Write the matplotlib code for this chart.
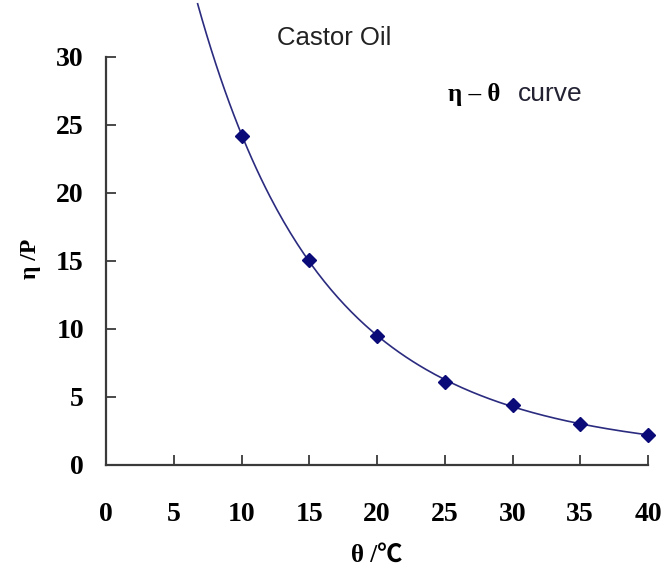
import matplotlib
matplotlib.use('Agg')
import matplotlib.pyplot as plt
import numpy as np

# data
temp = [10, 15, 20, 25, 30, 35, 40]          # θ / ℃
visc = [24.2, 15.1, 9.5, 6.1, 4.4, 3.0, 2.2]  # η / P
xticks = [0, 5, 10, 15, 20, 25, 30, 35, 40]
yticks = [0, 5, 10, 15, 20, 25, 30]

serif = ['Liberation Serif', 'DejaVu Serif']

fig = plt.figure(figsize=(6.68, 5.81), dpi=100)
ax = fig.add_axes([0.159, 0.2, 0.811, 0.702])
ax.set_xlim(0, 40)
ax.set_ylim(0, 30)

# trendline (quadratic fit in log space), extended a bit below the first point
coef = np.polyfit(temp, np.log(visc), 2)
xt = np.linspace(6.75, 40, 200)
ax.plot(xt, np.exp(np.polyval(coef, xt)), color='#2b2b80', lw=1.2, clip_on=False, zorder=2)
ax.plot(temp, visc, linestyle='none', marker='D', ms=7, color='#0a0a78', zorder=3, clip_on=False)

for s in ['top', 'right']:
    ax.spines[s].set_visible(False)
for s in ['left', 'bottom']:
    ax.spines[s].set_color('#3a3a3a')
    ax.spines[s].set_linewidth(1.6)

ax.set_xticks(xticks)
ax.set_yticks(yticks)
ax.tick_params(direction='in', length=7, width=1.3, color='#3a3a3a')
ax.tick_params(axis='x', pad=27)
ax.tick_params(axis='y', pad=16)
for lab in ax.get_xticklabels() + ax.get_yticklabels():
    lab.set_family(serif)
    lab.set_fontweight('bold')
    lab.set_fontsize(20)

fig.text(0.564, 0.045, 'θ /℃', family=['Liberation Serif', 'Noto Sans CJK SC'],
         fontweight='bold', fontsize=18, ha='center', va='center')
fig.text(0.045, 0.554, 'η /P', family=serif, fontweight='bold', fontsize=17,
         rotation=90, ha='center', va='center')

fig.text(0.501, 0.935, 'Castor Oil', family='Liberation Sans', fontsize=18.5,
         ha='center', va='center', color='#222222')
fig.text(0.671, 0.838, 'η – θ', family=serif, fontweight='bold', fontsize=18,
         ha='left', va='center')
fig.text(0.775, 0.838, 'curve', family='Liberation Sans', fontsize=19,
         ha='left', va='center', color='#222233')

fig.savefig('out.png', dpi=100, facecolor='white')
